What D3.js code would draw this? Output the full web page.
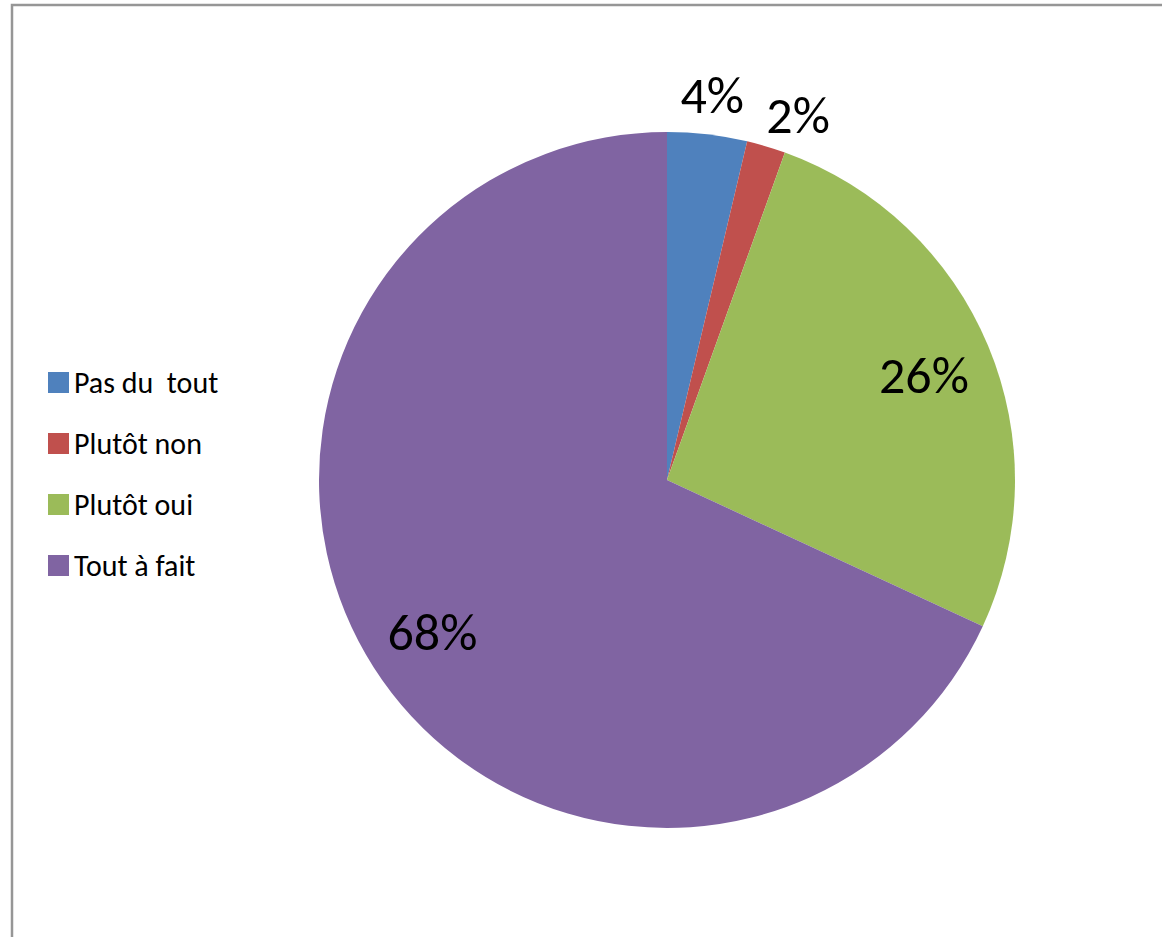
<!DOCTYPE html>
<html>
<head>
<meta charset="utf-8">
<script src="https://cdn.jsdelivr.net/npm/d3@7"></script>
<style>
  body { margin: 0; background: #fff; }
  svg { display: block; }
  text { font-family: Carlito, Calibri, Lato, "Liberation Sans", sans-serif; fill: #000; white-space: pre; }
</style>
</head>
<body>
<svg id="chart"></svg>
<script>
const width = 1162;
const height = 937;

// slices, clockwise from 12 o'clock
const categories = ["Pas du  tout", "Plutôt non", "Plutôt oui", "Tout à fait"];
const values = [3.7, 1.8, 26.4, 68.1];
const colors = ["#4f81bd", "#c0504d", "#9bbb59", "#8064a2"];

const cx = 667, cy = 480, radius = 348;

const svg = d3.select("#chart")
  .attr("width", width)
  .attr("height", height);

// chart area frame (runs off the right and bottom edges)
svg.append("rect")
  .attr("x", 12).attr("y", 5)
  .attr("width", width + 20).attr("height", height + 20)
  .attr("fill", "none")
  .attr("stroke", "#969696")
  .attr("stroke-width", 2.5);

const data = categories.map((c, i) => ({ name: c, value: values[i], color: colors[i] }));

const pie = d3.pie().value(d => d.value).sort(null);
const arcs = pie(data);

const arc = d3.arc().innerRadius(0).outerRadius(radius);
const inLabel = d3.arc().innerRadius(radius * 0.8).outerRadius(radius * 0.8);
const outLabel = d3.arc().innerRadius(radius * 1.12).outerRadius(radius * 1.12);

const g = svg.append("g").attr("transform", `translate(${cx},${cy})`);

g.selectAll("path")
  .data(arcs)
  .join("path")
  .attr("d", arc)
  .attr("fill", d => d.data.color);

// small slices get their labels outside the pie
g.selectAll("text.lbl")
  .data(arcs)
  .join("text")
  .attr("class", "lbl")
  .attr("transform", d => {
    const outside = d.data.value < 5;
    let [x, y] = (outside ? outLabel : inLabel).centroid(d);
    if (outside && d.index === 1) { x += 20; y += 6; }
    return `translate(${x},${y + 2})`;
  })
  .attr("text-anchor", "middle")
  .attr("dy", "0.35em")
  .style("font-size", "52px")
  .text(d => Math.round(d.data.value) + "%");

// legend
const legend = svg.append("g").attr("transform", "translate(48,372)");
const row = legend.selectAll("g")
  .data(data)
  .join("g")
  .attr("transform", (d, i) => `translate(0,${i * 61})`);

row.append("rect")
  .attr("width", 21).attr("height", 21)
  .attr("fill", d => d.color);

row.append("text")
  .attr("x", 26)
  .attr("y", 21)
  .style("font-size", "30px")
  .text(d => d.name);
</script>
</body>
</html>
